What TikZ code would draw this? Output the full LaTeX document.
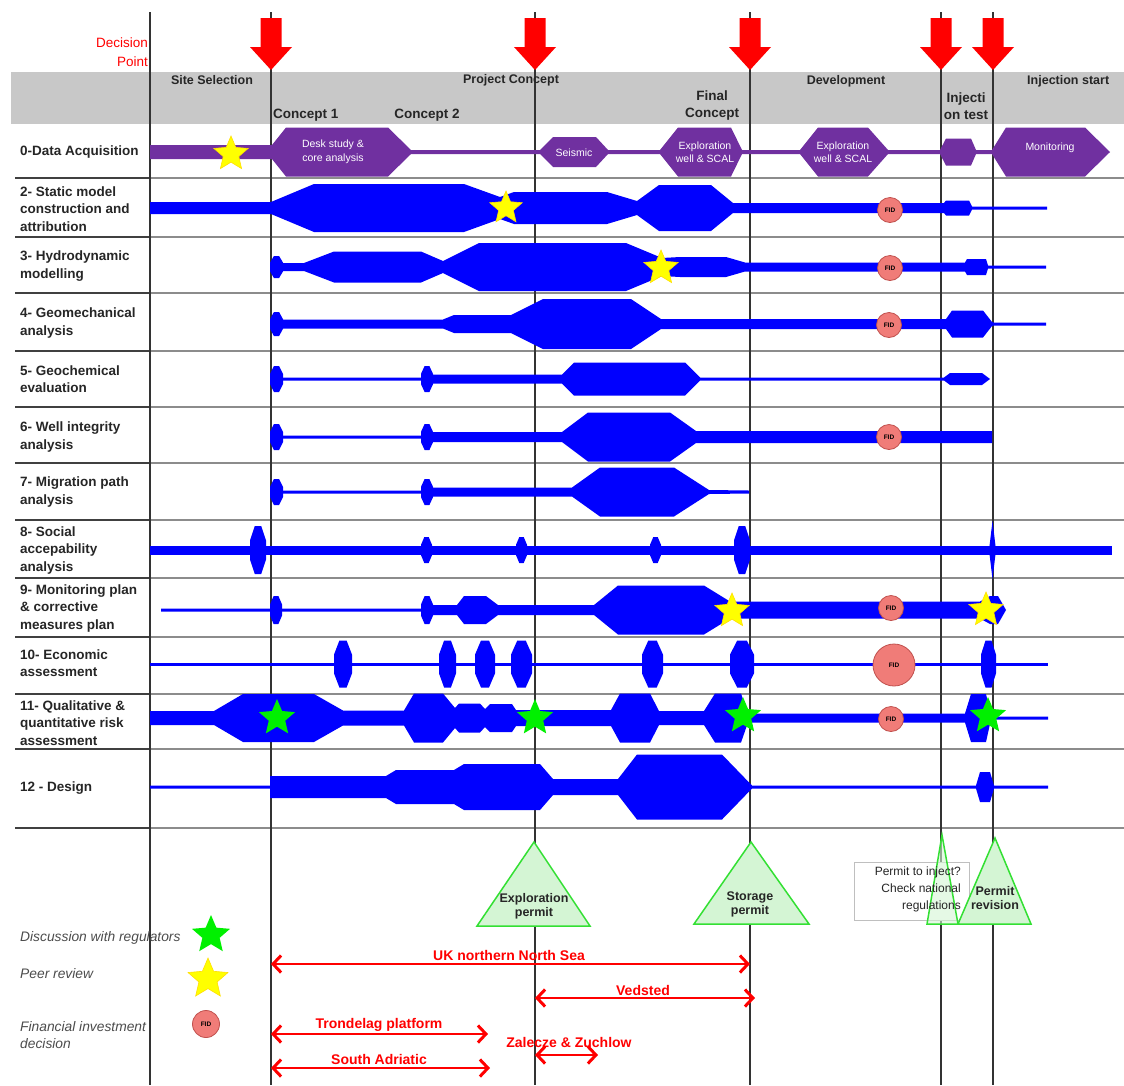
\documentclass[tikz,border=0pt]{standalone}
\usepackage{fontspec}
\setmainfont{Liberation Sans}
\usetikzlibrary{shapes.geometric,arrows.meta}
\definecolor{dacq}{HTML}{7030A0}
\definecolor{bandblue}{HTML}{0000FF}
\definecolor{hdrgray}{HTML}{C8C8C8}
\definecolor{fidfill}{HTML}{F07C78}
\definecolor{fiddraw}{HTML}{C0504D}
\definecolor{permitfill}{HTML}{D4F5D4}
\definecolor{permitdraw}{HTML}{33E033}
\definecolor{staryellow}{HTML}{FFFF00}
\definecolor{stargreen}{HTML}{00F000}
\definecolor{redlab}{HTML}{FF0000}

\newcommand\band[3][bandblue]{%
  \gdef\btop{}\gdef\bbot{}%
  \foreach \px/\ph in {#3}{\xdef\btop{\btop(\px,#2-\ph)--}\xdef\bbot{(\px,#2+\ph)--\bbot}}%
  \edef\bcmd{\noexpand\fill[#1]\btop\bbot cycle;}\bcmd}
\newcommand\vblob[5][bandblue]{%
  \fill[#1] ({#3+0.3*(#4-#3)},{#2-#5}) -- ({#4-0.3*(#4-#3)},{#2-#5}) -- (#4,{#2-0.4*#5}) -- (#4,{#2+0.4*#5}) -- ({#4-0.3*(#4-#3)},{#2+#5}) -- ({#3+0.3*(#4-#3)},{#2+#5}) -- (#3,{#2+0.4*#5}) -- (#3,{#2-0.4*#5}) -- cycle;}
\newcommand\dparrow[1]{\fill[red] (#1-10.5,18) -- (#1+10.5,18) -- (#1+10.5,47) -- (#1+21,47) -- (#1,70) -- (#1-21,47) -- (#1-10.5,47) -- cycle;}

\tikzset{
  rowlab/.style={anchor=west, align=left, inner sep=0pt, font=\fontsize{13.5}{17.5}\selectfont\bfseries, text=black!85},
  phase/.style={inner sep=0pt, font=\fontsize{12.5}{14}\selectfont\bfseries, text=black!85},
  sublab/.style={inner sep=0pt, align=center, font=\fontsize{13.5}{17}\selectfont\bfseries, text=black!85},
  hextext/.style={inner sep=0pt, align=center, text=white, font=\fontsize{10.5}{13.5}\selectfont},
  ystar/.style={star, star points=5, star point ratio=2.2, fill=staryellow, draw=staryellow!75!orange, line width=0.6pt, inner sep=0pt, minimum size=#1},
  gstar/.style={star, star points=5, star point ratio=2.2, fill=stargreen, inner sep=0pt, minimum size=#1},
  fid/.style={circle, fill=fidfill, draw=fiddraw, line width=0.8pt, inner sep=0pt, minimum size=#1, font=\fontsize{6.5}{7}\selectfont\bfseries},
  vline/.style={draw=black!80, line width=1.1pt},
  sepdark/.style={draw=black!75, line width=2.2pt},
  seplight/.style={draw=black!45, line width=2.2pt},
  permit/.style={fill=permitfill, draw=permitdraw, line width=1.5pt, line join=miter},
  permtext/.style={inner sep=0pt, align=center, font=\fontsize{12.5}{14}\selectfont\bfseries, text=black!85},
  loc/.style={draw=redlab, line width=2.8pt, {Straight Barb[length=8pt,width=17pt,line width=3pt]}-{Straight Barb[length=8pt,width=17pt,line width=3pt]}},
  loclab/.style={inner sep=0pt, text=redlab, font=\fontsize{14}{15}\selectfont\bfseries},
  legtext/.style={anchor=west, align=left, inner sep=0pt, text=black!70, font=\fontsize{13.8}{17}\selectfont\itshape}
}

\begin{document}
\begin{tikzpicture}[x=1pt,y=-1pt]
\useasboundingbox (0,0) rectangle (1124,1085);
\fill[white] (0,0) rectangle (1124,1085);

% header band
\fill[hdrgray] (11,72) rectangle (1124,124);

% row separators
\foreach \yy in {178,237,293,351,407,463,520,578,637,694,749,828}{%
  \draw[sepdark] (15,\yy) -- (150,\yy);
  \draw[seplight] (150,\yy) -- (1124,\yy);}

% vertical lines
\foreach \xx in {150,271,535,750,941,993}{\draw[vline] (\xx,12) -- (\xx,1085);}

% decision arrows
\foreach \xx in {271,535,750,941,993}{\dparrow{\xx}}

% header texts
\node[anchor=east, align=right, inner sep=0pt, text=redlab, font=\fontsize{13.5}{19}\selectfont] (dp) at (148,52) {Decision\\Point};
\node[phase] (ph1) at (212,80) {Site Selection};
\node[phase] (ph2) at (511,80) {Project Concept};
\node[phase] (ph3) at (846,81) {Development};
\node[phase, anchor=west] (ph4) at (1027,81) {Injection start};
\node[sublab, anchor=west] (c1) at (273,115) {Concept 1};
\node[sublab] (c2) at (427,115) {Concept 2};
\node[sublab] (fc) at (712,106) {Final\\Concept};
\node[sublab] (it) at (966,106) {Injecti\\on test};

% row labels
\node[rowlab] (r0) at (20,152) {0-Data Acquisition};
\node[rowlab] (r2) at (20,209) {2- Static model\\construction and\\attribution};
\node[rowlab] (r3) at (20,266) {3- Hydrodynamic\\modelling};
\node[rowlab] (r4) at (20,323) {4- Geomechanical\\analysis};
\node[rowlab] (r5) at (20,379) {5- Geochemical\\evaluation};
\node[rowlab] (r6) at (20,437) {6- Well integrity\\analysis};
\node[rowlab] (r7) at (20,492) {7- Migration path\\analysis};
\node[rowlab] (r8) at (20,550) {8- Social\\accepability\\analysis};
\node[rowlab] (r9) at (20,608) {9- Monitoring plan\\\& corrective\\measures plan};
\node[rowlab] (r10) at (20,663) {10- Economic\\assessment};
\node[rowlab] (r11) at (20,723) {11- Qualitative \&\\quantitative risk\\assessment};
\node[rowlab] (r12) at (20,788) {12 - Design};

% row 0 data acquisition
\band[dacq]{152}{150/7, 272/7, 286/24.5, 388/24.5, 411/2, 540/2, 553/15, 596/15, 608/2, 660/2, 678/24.5, 731/24.5, 742/2, 800/2, 818/24.5, 868/24.5, 888/2, 940/2, 946/13.5, 971/13.5, 976/2, 992/2, 1006/24.5, 1085/24.5, 1110/0}
\node[hextext] (h1) at (333,152) {Desk study \&\\core analysis};
\node[hextext] (h2) at (574,153) {Seismic};
\node[hextext] (h3) at (705,152) {Exploration\\well \& SCAL};
\node[hextext] (h4) at (843,152) {Exploration\\well \& SCAL};
\node[hextext] (h5) at (1050,148) {Monitoring};

% row 2 static model
\band{208}{150/6, 271/6, 314/24, 464/24, 500/11, 514/16, 607/16, 637/7, 659/23, 711/23, 733/5, 944/5, 946/7.5, 969/7.5, 972/1.5, 1047/1.5}
% row 3 hydrodynamic
\band{267}{271/4, 304/4, 334/15.5, 421/15.5, 443/6, 479/24, 626/24, 662/9, 680/10, 726/10, 745/4.5, 965/4.5, 967/8, 986/8, 988/1.5, 1046/1.5}
\vblob{267}{270}{283}{11}
% row 4 geomechanical
\band{324}{271/4.5, 443/4.5, 454/9, 511/9, 543/25, 631/25, 661/5, 946/5, 952/13.5, 983/13.5, 992/2, 994/1.5, 1046/1.5}
\vblob{324}{270}{283}{12}
% row 5 geochemical
\band{379}{271/1.5, 421/1.5, 421/4.5, 562/4.5, 574/16.5, 685/16.5, 700/1.5, 944/1.5, 950/6, 982/6, 990/0}
\vblob{379}{270}{283}{13}
\vblob{379}{421}{433}{13}
% row 6 well integrity
\band{437}{271/1.5, 421/1.5, 421/5, 562/5, 588/24.5, 670/24.5, 696/6, 992/6}
\vblob{437}{270}{283}{13}
\vblob{437}{421}{433}{13}
% row 7 migration
\band{492}{271/1.5, 421/1.5, 421/4.5, 572/4.5, 600/24.5, 674/24.5, 709/2, 749/1.5}
\vblob{492}{270}{283}{13}
\vblob{492}{421}{433}{13}
% row 8 social
\band{550}{150/4.5, 1112/4.5}
\vblob{550}{250}{266}{24}
\vblob{550}{421}{432}{13}
\vblob{550}{516}{527}{13}
\vblob{550}{650}{661}{13}
\vblob{550}{734}{750}{24}
\fill[bandblue] (992.5,521) -- (996,550) -- (992.5,579) -- (989,550) -- cycle;
% row 9 monitoring
\band{610}{161/1.5, 421/1.5, 421/5, 457/5, 464/14, 486/14, 498/5, 594/5, 618/24.5, 704/24.5, 730/8.5, 980/8.5, 990/14, 998/14, 1006/0}
\vblob{610}{270}{282}{14}
\vblob{610}{421}{433}{14}
% row 10 economic
\band{664}{150/1.5, 1048/1.5}
\foreach \xa/\xb in {334/352, 439/456, 475/495, 511/532, 642/663, 730/754, 981/996}{\vblob{664}{\xa}{\xb}{23.5}}
% row 11 risk
\band{718}{150/7, 214/7, 243/24, 314/24, 343/7.5, 404/7.5, 414/24.5, 443/24.5, 455/10, 459/14.5, 480/14.5, 485/9, 490/14, 512/14, 516/8, 611/8, 620/24.5, 650/24.5, 659/7, 704/7, 715/24.5, 741/24.5, 748/4.5, 965/4.5, 971/24, 986/24, 991/1.5, 1048/1.5}
% row 12 design
\band{787}{150/1.5, 270/1.5, 270/11, 386/11, 396/17, 454/17, 464/23, 540/23, 553/8, 618/8, 637/32.5, 722/32.5, 752/1.5, 976/1.5, 980/15, 990/15, 994/1.5, 1048/1.5}

% FID circles
\node[fid=25pt] (f2) at (890,210) {FID};
\node[fid=25pt] (f3) at (890,268) {FID};
\node[fid=25pt] (f4) at (889,325) {FID};
\node[fid=25pt] (f6) at (889,437) {FID};
\node[fid=25pt] (f9) at (891,608) {FID};
\node[fid=42pt] (f10) at (894,665) {FID};
\node[fid=25pt] (f11) at (891,719) {FID};

% stars
\node[ystar=36pt] (y0) at (231,154) {};
\node[ystar=34pt] (y2) at (506,208) {};
\node[ystar=36pt] (y3) at (661,268) {};
\node[ystar=36pt] (y9a) at (732,611) {};
\node[ystar=36pt] (y9b) at (986,610) {};
\node[gstar=38pt] (g1) at (277,718) {};
\node[gstar=38pt] (g2) at (535,718) {};
\node[gstar=38pt] (g3) at (743,716) {};
\node[gstar=38pt] (g4) at (988,716) {};

% permits
\node[draw=black!25, fill=white, line width=0.8pt, minimum width=115pt, minimum height=58pt, inner sep=0pt] (pbox) at (912,891) {};
\filldraw[permit] (534,842) -- (590,926) -- (477,926) -- cycle;
\filldraw[permit] (751,842) -- (809,924) -- (694,924) -- cycle;
\filldraw[permit, fill opacity=0.6] (942,835) -- (958,924) -- (927,924) -- cycle;
\filldraw[permit] (995,838) -- (1031,924) -- (958,924) -- cycle;
\node[permtext] (pt1) at (534,906) {Exploration\\permit};
\node[permtext] (pt2) at (750,904) {Storage\\permit};
\node[inner sep=0pt, anchor=east, align=right, text=black!85, font=\fontsize{12}{17}\selectfont] (pt3) at (961,889) {Permit to inject?\\Check national\\regulations};
\node[permtext] (pt4) at (995,898) {Permit\\revision};

% legend
\node[gstar=40pt] (lg1) at (211,935) {};
\node[ystar=42pt] (lg2) at (208,979) {};
\node[fid=27pt] (lg3) at (206,1024) {FID};
\node[legtext] (lt1) at (20,938) {Discussion with regulators};
\node[legtext] (lt2) at (20,974) {Peer review};
\node[legtext] (lt3) at (20,1035) {Financial investment\\decision};

% location ranges
\coordinate (uka) at (271,964); \coordinate (ukb) at (750,964);
\coordinate (vea) at (535,998); \coordinate (veb) at (755,998);
\coordinate (tra) at (271,1034); \coordinate (trb) at (488,1034);
\coordinate (saa) at (271,1068); \coordinate (sab) at (490,1068);
\coordinate (zaa) at (535,1055); \coordinate (zab) at (598,1055);
\draw[loc] (uka) -- (ukb);
\draw[loc] (vea) -- (veb);
\draw[loc] (tra) -- (trb);
\draw[loc] (saa) -- (sab);
\draw[loc] (zaa) -- (zab);
\node[loclab] (l1) at (509,955) {UK northern North Sea};
\node[loclab] (l2) at (643,990) {Vedsted};
\node[loclab] (l3) at (379,1025) {Trondelag platform};
\node[loclab] (l4) at (379,1059) {South Adriatic};
\node[loclab] (l5) at (569,1042) {Zalecze \& Zuchlow};
\end{tikzpicture}
\end{document}
